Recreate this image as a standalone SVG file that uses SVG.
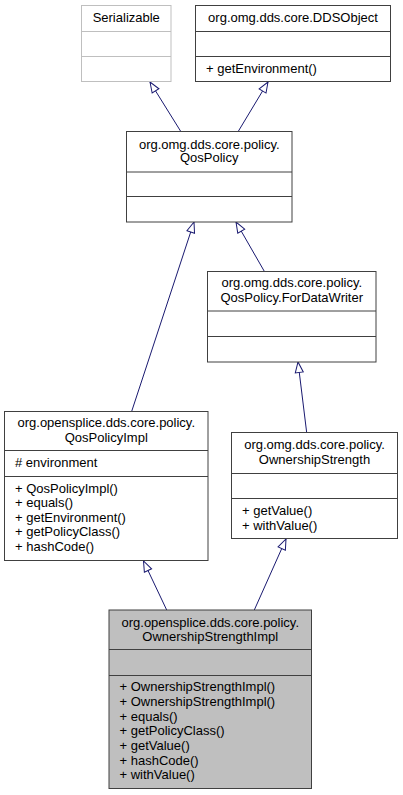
<svg xmlns="http://www.w3.org/2000/svg" width="403" height="795" viewBox="0 0 403 795">
<style>
text{font-family:"Liberation Sans",Arial,sans-serif;font-size:13px;fill:#000}
.t{text-anchor:middle}
.box{fill:#fff;stroke:#404040;stroke-width:1}
.ext{fill:#fff;stroke:#bfbfbf;stroke-width:1}
.cur{fill:#bfbfbf;stroke:#404040;stroke-width:1}
.dv{stroke:#404040;stroke-width:1}
.dvx{stroke:#bfbfbf;stroke-width:1}
.e{fill:none;stroke:#191970;stroke-width:1;marker-end:url(#ah)}
</style>
<defs>
<marker id="ah" viewBox="0 0 11 9" refX="11" refY="4.5" markerWidth="11" markerHeight="9" markerUnits="userSpaceOnUse" orient="auto" overflow="visible">
<path d="M0.5,0.5 L11,4.5 L0.5,8.5 Z" fill="#fff" stroke="#191970" stroke-width="1"/>
</marker>
</defs>
<rect width="403" height="795" fill="#fff"/>
<g id="connectors">
<path class="e" d="M180.7,131.3 L150,82"/>
<path class="e" d="M238.3,131.3 L268,82"/>
<path class="e" d="M131.7,411.3 L194,222"/>
<path class="e" d="M264.3,271.3 L236,222"/>
<path class="e" d="M306.7,432.7 L298,362"/>
<path class="e" d="M166.7,610 L143.5,561"/>
<path class="e" d="M254.3,610 L286,539"/>
</g>
<g id="Serializable">
<rect class="ext" x="81.5" y="5.5" width="89.5" height="76"/>
<line class="dvx" x1="81.5" y1="31.5" x2="171" y2="31.5"/>
<line class="dvx" x1="81.5" y1="56.5" x2="171" y2="56.5"/>
<text class="t" x="126.25" y="22">Serializable</text>
</g>
<g id="DDSObject">
<rect class="box" x="195.5" y="5.5" width="195" height="76"/>
<line class="dv" x1="195.5" y1="31.5" x2="390.5" y2="31.5"/>
<line class="dv" x1="195.5" y1="56.5" x2="390.5" y2="56.5"/>
<text class="t" x="293" y="22">org.omg.dds.core.DDSObject</text>
<text x="206" y="73">+ getEnvironment()</text>
</g>
<g id="QosPolicy">
<rect class="box" x="126.5" y="131.5" width="165.5" height="90.5"/>
<line class="dv" x1="126.5" y1="172" x2="292" y2="172"/>
<line class="dv" x1="126.5" y1="196.5" x2="292" y2="196.5"/>
<text class="t" x="209.25" y="148.5">org.omg.dds.core.policy.</text>
<text class="t" x="209.25" y="162">QosPolicy</text>
</g>
<g id="ForDataWriter">
<rect class="box" x="207.5" y="271.5" width="168.5" height="90.5"/>
<line class="dv" x1="207.5" y1="311" x2="376" y2="311"/>
<line class="dv" x1="207.5" y1="336.5" x2="376" y2="336.5"/>
<text class="t" x="291.75" y="287">org.omg.dds.core.policy.</text>
<text class="t" x="291.75" y="301.5">QosPolicy.ForDataWriter</text>
</g>
<g id="QosPolicyImpl">
<rect class="box" x="4.5" y="411.5" width="203.5" height="149"/>
<line class="dv" x1="4.5" y1="450.5" x2="208" y2="450.5"/>
<line class="dv" x1="4.5" y1="476.5" x2="208" y2="476.5"/>
<text class="t" x="106.25" y="427">org.opensplice.dds.core.policy.</text>
<text class="t" x="106.25" y="441.5">QosPolicyImpl</text>
<text x="15" y="466.5"># environment</text>
<text x="15" y="492.8">+ QosPolicyImpl()</text>
<text x="15" y="507.3">+ equals()</text>
<text x="15" y="521.8">+ getEnvironment()</text>
<text x="15" y="536.3">+ getPolicyClass()</text>
<text x="15" y="550.8">+ hashCode()</text>
</g>
<g id="OwnershipStrength">
<rect class="box" x="231.5" y="432.5" width="166" height="106"/>
<line class="dv" x1="231.5" y1="473.5" x2="397.5" y2="473.5"/>
<line class="dv" x1="231.5" y1="498.5" x2="397.5" y2="498.5"/>
<text class="t" x="314.5" y="448.5">org.omg.dds.core.policy.</text>
<text class="t" x="314.5" y="463.5">OwnershipStrength</text>
<text x="242" y="515">+ getValue()</text>
<text x="242" y="529.5">+ withValue()</text>
</g>
<g id="OwnershipStrengthImpl">
<rect class="cur" x="109" y="610" width="202.5" height="178.5"/>
<line class="dv" x1="109" y1="649.5" x2="311.5" y2="649.5"/>
<line class="dv" x1="109" y1="675.5" x2="311.5" y2="675.5"/>
<text class="t" x="210.25" y="626.5">org.opensplice.dds.core.policy.</text>
<text class="t" x="210.25" y="641">OwnershipStrengthImpl</text>
<text x="119.5" y="691.2">+ OwnershipStrengthImpl()</text>
<text x="119.5" y="705.9">+ OwnershipStrengthImpl()</text>
<text x="119.5" y="720.6">+ equals()</text>
<text x="119.5" y="735.3">+ getPolicyClass()</text>
<text x="119.5" y="750">+ getValue()</text>
<text x="119.5" y="764.7">+ hashCode()</text>
<text x="119.5" y="779.4">+ withValue()</text>
</g>
</svg>
